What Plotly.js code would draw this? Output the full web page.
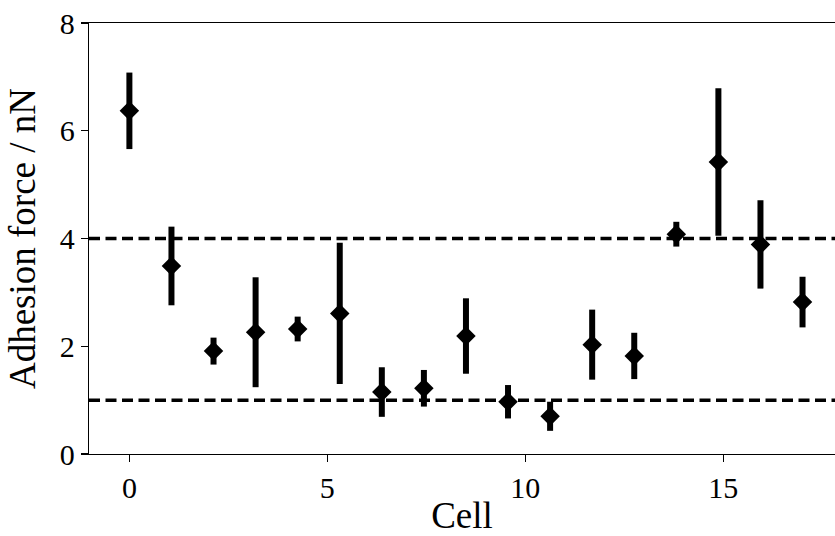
<!DOCTYPE html>
<html>
<head>
<meta charset="utf-8">
<script src="https://cdn.plot.ly/plotly-3.0.1.min.js"></script>
<style>
  html, body { margin: 0; padding: 0; background: #fff; }
  #chart { width: 835px; height: 536px; }
</style>
</head>
<body>
<div id="chart"></div>
<script>
// Cell positions along the x axis
const cells = [0, 1.0625, 2.125, 3.1875, 4.25, 5.3125, 6.375, 7.4375, 8.5,
               9.5625, 10.625, 11.6875, 12.75, 13.8125, 14.875, 15.9375, 17];
// Mean adhesion force per cell (nN)
const force = [6.37, 3.49, 1.91, 2.26, 2.32, 2.61, 1.15, 1.22, 2.19,
               0.97, 0.70, 2.03, 1.82, 4.08, 5.42, 3.89, 2.82];
// Standard deviation per cell (nN)
const forceErr = [0.71, 0.73, 0.25, 1.02, 0.23, 1.31, 0.46, 0.34, 0.70,
                  0.31, 0.27, 0.65, 0.43, 0.23, 1.37, 0.82, 0.47];
// Reference levels (nN)
const thresholds = [4, 1];

const xTicks = [0, 5, 10, 15];
const yTicks = [0, 2, 4, 6, 8];

const serif = 'Liberation Serif, DejaVu Serif, serif';

const trace = {
  type: 'scatter',
  mode: 'markers',
  x: cells,
  y: force,
  marker: { symbol: 'diamond', size: 15, color: '#000' },
  error_y: {
    type: 'data',
    array: forceErr,
    visible: true,
    color: '#000',
    thickness: 6,
    width: 0
  },
  hoverinfo: 'x+y'
};

const shapes = thresholds.map(v => ({
  type: 'line',
  xref: 'paper', x0: 0, x1: 1,
  yref: 'y', y0: v, y1: v,
  layer: 'below',
  line: { color: '#000', width: 3.5, dash: '11px,5.5px' }
}));

const axisCommon = {
  showgrid: false,
  zeroline: false,
  showline: true,
  mirror: true,
  linecolor: '#000',
  linewidth: 1.3,
  ticks: 'outside',
  ticklen: 7,
  tickwidth: 1.2,
  tickcolor: '#000',
  tickfont: { family: serif, size: 30, color: '#000' }
};

const layout = {
  width: 835,
  height: 536,
  margin: { l: 89, r: 0, t: 23, b: 82 },
  paper_bgcolor: '#fff',
  plot_bgcolor: '#fff',
  showlegend: false,
  font: { family: serif, color: '#000' },
  xaxis: Object.assign({}, axisCommon, {
    range: [-1.02, 17.82],
    tickmode: 'array',
    tickvals: xTicks,
    ticktext: xTicks.map(String),
    title: { text: 'Cell', font: { family: serif, size: 37, color: '#000' }, standoff: 5 }
  }),
  yaxis: Object.assign({}, axisCommon, {
    range: [0, 8],
    tickmode: 'array',
    tickvals: yTicks,
    ticktext: yTicks.map(String),
    title: { text: 'Adhesion force / nN', font: { family: serif, size: 37, color: '#000' }, standoff: 12 }
  }),
  shapes: shapes
};

Plotly.newPlot('chart', [trace], layout, { displayModeBar: false, staticPlot: true });
</script>
</body>
</html>
